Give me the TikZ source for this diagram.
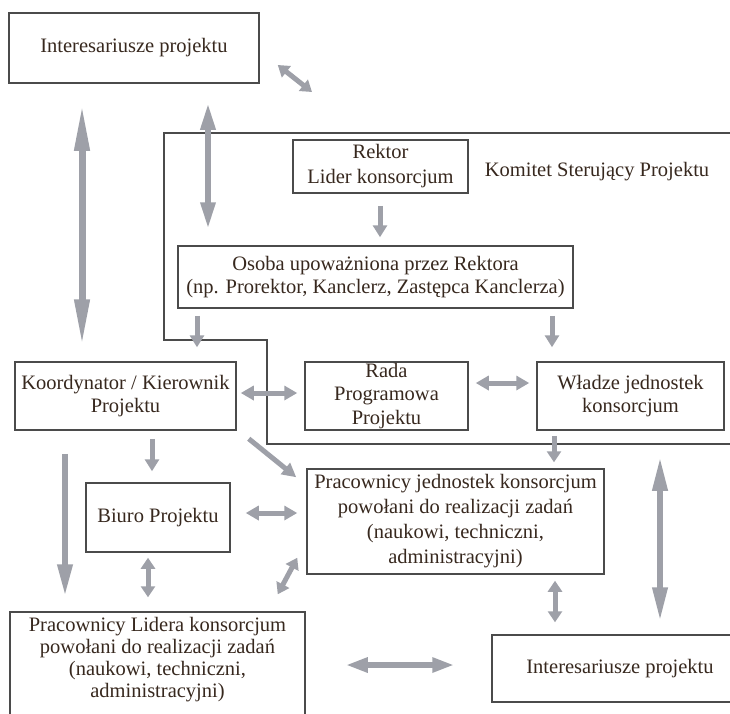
\documentclass[tikz,border=0pt]{standalone}
\usepackage{fontspec}
\setmainfont{Liberation Serif}
\usetikzlibrary{arrows.meta}
\definecolor{boxc}{RGB}{75,75,75}
\definecolor{arrc}{RGB}{158,160,168}
\definecolor{txtc}{RGB}{55,40,30}
\begin{document}
\begin{tikzpicture}[x=1pt,y=-1pt,
  box/.style={draw=boxc,line width=1.5pt,rectangle,inner sep=0pt,align=center,text=txtc,font=\fontsize{20.5}{23}\selectfont},
  txt/.style={inner sep=0pt,align=center,text=txtc,font=\fontsize{20.5}{23}\selectfont},
  frame/.style={draw=boxc,line width=1.5pt},
  darr/.style={draw=arrc,line width=5pt,{Triangle[length=#1,width=14pt]}-{Triangle[length=#1,width=14pt]}},
  darr/.default=12pt,
  sarr/.style={draw=arrc,line width=5pt,-{Triangle[length=#1,width=14pt]}},
  sarr/.default=12pt]
\useasboundingbox (0,0) rectangle (730,713);
\clip (0,0) rectangle (730,713);
\fill[white] (0,0) rectangle (730,713);

% steering committee frame
\draw[frame] (164,133) -- (745,133) -- (745,444) -- (267,444) -- (267,340) -- (164,340) -- cycle;
\node[txt] (kom) at (597,172) {Komitet Sterujący Projektu};
\coordinate (kcorner) at (312,92);

% boxes
\node[box,minimum width=250pt,minimum height=70pt] (int1) at (134,48) {Interesariusze projektu};
\node[box,minimum width=175pt,minimum height=53pt,font=\fontsize{20.5}{25}\selectfont] (rek) at (380.5,166.5) {Rektor\\Lider konsorcjum};
\node[box,minimum width=395pt,minimum height=62pt] (os) at (375.5,277) {Osoba upoważniona przez Rektora\\(np. Prorektor, Kanclerz, Zastępca Kanclerza)};
\node[box,minimum width=221pt,minimum height=68pt] (koord) at (125.5,396) {Koordynator / Kierownik\\Projektu};
\node[box,minimum width=163pt,minimum height=68pt,font=\fontsize{20.5}{23.5}\selectfont] (rada) at (386.5,396) {Rada\\Programowa\\Projektu};
\node[box,minimum width=187pt,minimum height=68pt] (wl) at (630.5,396) {Władze jednostek\\konsorcjum};
\node[box,minimum width=297pt,minimum height=105pt,font=\fontsize{20.5}{25}\selectfont] (pj) at (455.5,521.5) {Pracownicy jednostek konsorcjum\\powołani do realizacji zadań\\(naukowi, techniczni,\\administracyjni)};
\node[box,minimum width=144pt,minimum height=69pt] (biuro) at (158,517.5) {Biuro Projektu};
\node[box,minimum width=295pt,minimum height=120pt] (pl) at (157.5,672) {};
\node[txt,font=\fontsize{20.5}{22}\selectfont] (plt) at (157.5,660) {Pracownicy Lidera konsorcjum\\powołani do realizacji zadań\\(naukowi, techniczni,\\administracyjni)};
\node[box,minimum width=256pt,minimum height=67pt] (int2) at (620,668.5) {Interesariusze projektu};

% arrows
\draw[darr=48pt,line width=7pt] ([shift={(-52,19)}]int1.south) -- ([shift={(-43.5,-14)}]koord.north);
\draw[darr=27pt,line width=6pt] ([shift={(74,19)}]int1.south) -- ([shift={(-167.5,-16)}]os.north);
\draw[darr=11pt] ([shift={(18,17)}]int1.east) -- (kcorner);
\draw[sarr] ([shift={(-0.5,12)}]rek.south) -- ([shift={(4.5,-8)}]os.north);
\draw[sarr] ([shift={(-178.5,7)}]os.south) -- ([shift={(71.5,-14)}]koord.north);
\draw[sarr] ([shift={(176.5,7)}]os.south) -- ([shift={(-78.5,-14)}]wl.north);
\draw[darr=13pt] ([shift={(4,-3)}]koord.east) -- ([shift={(-7,-3)}]rada.west);
\draw[darr=13pt] ([shift={(7,-13)}]rada.east) -- ([shift={(-7,-13)}]wl.west);
\draw[sarr=11pt] ([shift={(-76.5,5)}]wl.south) -- ([shift={(98.5,-6)}]pj.north);
\draw[darr=35pt,line width=6.5pt] ([shift={(29.5,25)}]wl.south) -- ([shift={(40,-12)}]int2.north);
\draw[sarr] ([shift={(26.5,8)}]koord.south) -- ([shift={(-6,-11)}]biuro.north);
\draw[sarr=14pt] ([shift={(12,8)}]koord.south east) -- ([shift={(-10,9)}]pj.north west);
\draw[sarr=33pt,line width=6.5pt] ([shift={(-60.5,23)}]koord.south) -- ([shift={(-92.5,-14)}]pl.north);
\draw[darr=13pt] ([shift={(15,-4.5)}]biuro.east) -- ([shift={(-9,-8.5)}]pj.west);
\draw[darr=11pt] ([shift={(-10,5)}]biuro.south) -- ([shift={(-9.5,-14)}]pl.north);
\draw[darr=11pt] ([shift={(-28,-17)}]pl.north east) -- ([shift={(-9,-17)}]pj.south west);
\draw[darr=11pt] ([shift={(99.5,6)}]pj.south) -- ([shift={(-65,-12)}]int2.north);
\draw[darr=22pt,line width=6pt] ([shift={(40,-7)}]pl.east) -- ([shift={(-37,-3.5)}]int2.west);
\end{tikzpicture}
\end{document}
